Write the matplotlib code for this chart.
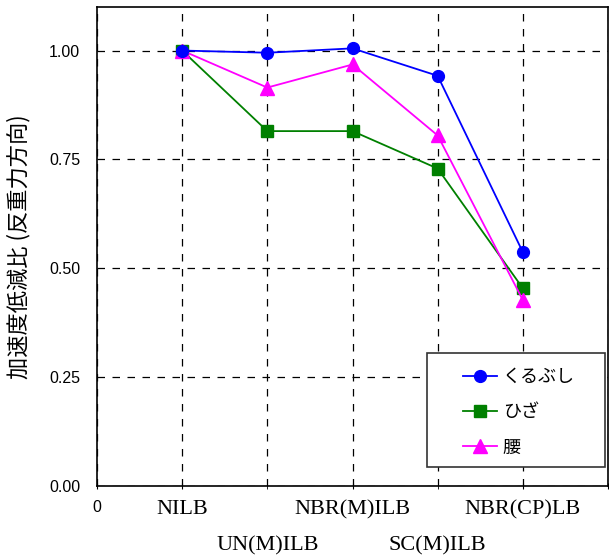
import matplotlib
matplotlib.use("Agg")
import matplotlib.pyplot as plt
from matplotlib.patches import Rectangle

plt.rcParams["font.family"] = ["Liberation Sans", "Noto Sans CJK JP", "DejaVu Sans"]

# データ
cases = ["NILB", "UN(M)ILB", "NBR(M)ILB", "SC(M)ILB", "NBR(CP)LB"]
kurubushi = [1.00, 0.995, 1.005, 0.942, 0.537]
hiza = [1.00, 0.815, 0.815, 0.729, 0.454]
koshi = [1.00, 0.915, 0.968, 0.805, 0.427]
yticks = [0.00, 0.25, 0.50, 0.75, 1.00]

fig = plt.figure(figsize=(6.09, 5.56), dpi=100)
ax = fig.add_axes([97 / 609, 70 / 556, 511 / 609, 479 / 556])

xs = list(range(1, len(cases) + 1))
ax.plot(xs, kurubushi, color="#0000FF", lw=1.3, marker="o", ms=8.5, label="くるぶし", zorder=4)
ax.plot(xs, hiza, color="#008000", lw=1.3, marker="s", ms=8.5, label="ひざ", zorder=3)
ax.plot(xs, koshi, color="#FF00FF", lw=1.3, marker="^", ms=9.5, label="腰", zorder=3)

ax.set_xlim(0, 6)
ax.set_ylim(0, 1.1)
ax.set_yticks(yticks)
ax.set_yticklabels([f"{v:.2f}" for v in yticks], fontsize=11.5)
ax.tick_params(axis="y", length=0, pad=12)

# 上段 (major) と 下段 (minor) のカテゴリラベル
upper = [0] + xs[0::2] + [6]
lower = xs[1::2]
ax.set_xticks(upper)
ax.set_xticklabels(["0"] + cases[0::2] + [""])
ax.set_xticks(lower, minor=True)
ax.set_xticklabels(cases[1::2], minor=True, fontfamily="Liberation Serif", fontsize=16)
ax.tick_params(axis="x", which="major", length=4, direction="inout", pad=8)
ax.tick_params(axis="x", which="minor", length=4, direction="inout", pad=34)
for i, t in enumerate(ax.get_xticklabels()):
    if i == 0:
        t.set_fontsize(11.5)
    else:
        t.set_fontfamily("Liberation Serif")
        t.set_fontsize(16)

ax.grid(True, which="both", axis="x", color="black", ls=(0, (6, 6)), lw=0.9)
ax.grid(True, which="major", axis="y", color="black", ls=(0, (6, 6)), lw=0.9)
ax.set_axisbelow(True)
for s in ax.spines.values():
    s.set_color("black")
    s.set_linewidth(1.2)

ax.set_ylabel("加速度低減比 (反重力方向)", fontsize=16,
              fontfamily=["Noto Sans CJK JP", "DejaVu Sans"])
ax.yaxis.set_label_coords(-0.13, 0.5)

# 凡例枠
ax.add_patch(Rectangle((0.6458, 0.0397), 0.3483, 0.238, transform=ax.transAxes,
                       facecolor="white", edgecolor="#333333", lw=1.2, zorder=5))
leg = ax.legend(loc="upper left", bbox_to_anchor=(0.716, 0.246),
                prop={"family": ["Noto Sans CJK JP", "DejaVu Sans"], "size": 13},
                frameon=False, handlelength=1.9, labelspacing=0.95,
                borderpad=0, handletextpad=0.3, borderaxespad=0)
leg.set_zorder(6)

fig.savefig("out.png", dpi=100)
